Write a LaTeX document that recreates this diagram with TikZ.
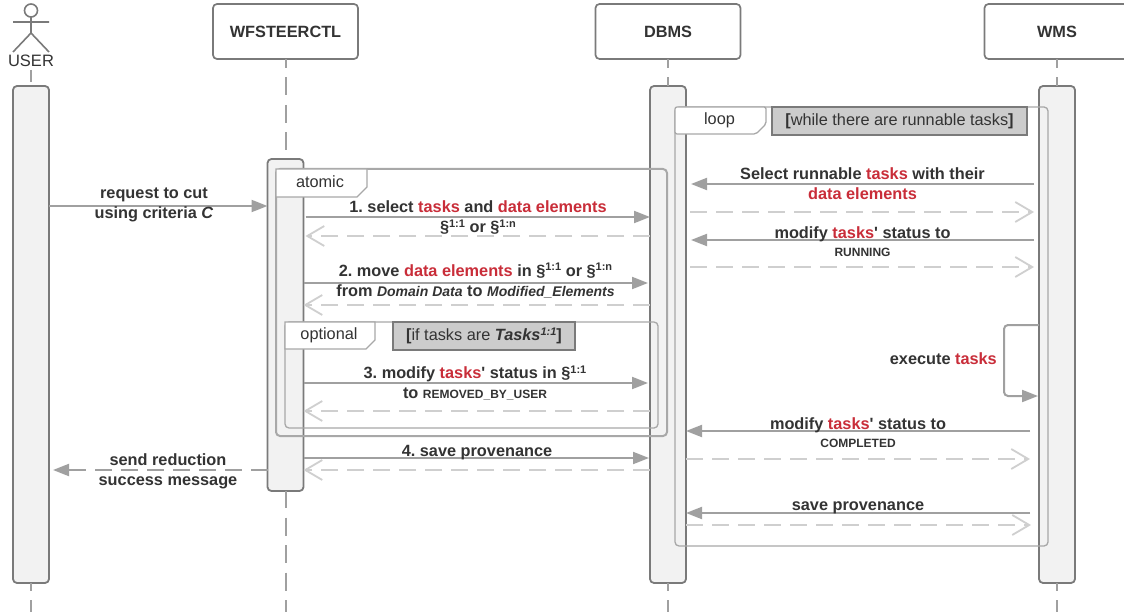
\documentclass[tikz,border=0pt]{standalone}
\usepackage{fontspec}
\setmainfont{Liberation Sans}
\usetikzlibrary{arrows.meta}
\definecolor{txt}{HTML}{333333}
\definecolor{hot}{HTML}{C92D39}
\definecolor{barline}{HTML}{7A7A7A}
\definecolor{barfill}{HTML}{F2F2F2}
\definecolor{msgline}{HTML}{A0A0A0}
\definecolor{retline}{HTML}{CFCFCF}
\definecolor{frameline}{HTML}{A8A8A8}
\newcommand\hot[1]{\textcolor{hot}{#1}}
\newcommand\supr[1]{\raisebox{.33em}{\fontsize{11}{11}\selectfont #1}}
\newcommand\smalltxt[1]{{\fontsize{12}{12}\selectfont #1}}
\newcommand\midtxt[1]{{\fontsize{14}{14}\selectfont\itshape #1}}
\tikzset{
  headbox/.style={draw=barline,line width=1.7pt,fill=white,rounded corners=4pt,inner sep=0pt,outer sep=0pt,minimum width=145pt,minimum height=55pt,text=txt,font=\frenchspacing\fontsize{16.3}{20}\selectfont\bfseries},
  actbar/.style={draw=barline,line width=1.8pt,fill=barfill,rounded corners=4pt,inner sep=0pt,outer sep=0pt,minimum width=36pt},
  life/.style={draw=msgline,line width=2pt,dash pattern=on 18pt off 9.5pt},
  msg/.style={draw=msgline,line width=2pt,-{Triangle[length=16pt,width=12pt,fill=msgline]}},
  dmsg/.style={msg,dash pattern=on 17pt off 9pt},
  ret/.style={draw=retline,line width=1.8pt,dash pattern=on 17pt off 9pt,-{Straight Barb[length=17pt,width=20pt,line width=1.8pt]}},
  lab/.style={text=txt,font=\frenchspacing\fontsize{16.3}{20}\selectfont\bfseries,align=center,inner sep=0pt},
  plain/.style={text=txt,font=\frenchspacing\fontsize{16.3}{20}\selectfont,inner sep=0pt},
  cond/.style={draw=barline,line width=1.1pt,fill=black!20,inner sep=0pt,outer sep=0pt,text=txt,font=\frenchspacing\fontsize{16.3}{20}\selectfont},
  frameA/.style={draw=frameline,line width=2pt,rounded corners=4pt},
  frameB/.style={draw=frameline,line width=1.3pt,rounded corners=4pt},
  tabshape/.style={draw=frameline,fill=white,line width=1.3pt},
}
\begin{document}
\begin{tikzpicture}[x=1pt,y=-1pt]
\useasboundingbox (0,0) rectangle (1124,612);
\clip (0,0) rectangle (1124,612);
\fill[white] (0,0) rectangle (1124,612);
% heads
\node[headbox] (ctlbox) at (285.5,31.5) {WFSTEERCTL};
\node[headbox] (dbbox) at (668,31.5) {DBMS};
\node[headbox] (wmsbox) at (1057,31.5) {WMS};
% actor
\draw[barline,line width=1.6pt] (31,10.5) circle (6.5);
\draw[barline,line width=1.6pt] (31,17) -- (31,33) (13,22) -- (49,22) (13,52) -- (31,33) -- (49,52);
\node[plain,font=\fontsize{16.5}{20}\selectfont] (userlab) at (31,61) {USER};
% bars
\node[actbar,minimum height=497pt] (userbar) at (31,334.5) {};
\node[actbar,minimum height=332pt] (ctlbar) at (285.5,325) {};
\node[actbar,minimum height=497pt] (dbbar) at (668,334.5) {};
\node[actbar,minimum height=497pt] (wmsbar) at (1057,334.5) {};
% lifeline ends
\coordinate (usertop) at (31,70);
\coordinate (userstop) at (31,82);
\coordinate (userend) at (31,612);
\coordinate (ctlend) at (285.5,612);
\coordinate (dbend) at (668,612);
\coordinate (wmsend) at (1057,612);
\draw[life,dash pattern=on 30pt off 0pt] (usertop) -- (userstop);
\draw[life,dash phase=9pt] (ctlbox.south) -- (ctlbar.north);
\draw[life,dash phase=9pt] (dbbox.south) -- (dbbar.north);
\draw[life,dash phase=9pt] (wmsbox.south) -- (wmsbar.north);
\draw[life,dash phase=10.5pt] (userbar.south) -- (userend);
\draw[life,dash phase=1pt] (ctlbar.south) -- (ctlend);
\draw[life,dash phase=10.5pt] (dbbar.south) -- (dbend);
\draw[life,dash phase=10.5pt] (wmsbar.south) -- (wmsend);
% frames
\draw[frameB] (675,107) rectangle (1048,546);
\draw[tabshape,rounded corners=2pt] (675,134) -- (675,107) -- (766,107) -- (766,124) -- (756,134) -- cycle;
\node[plain] (looplab) at (719.5,120) {loop};
\node[cond,minimum width=255pt,minimum height=28pt] (loopcond) at (899.5,121) {\textbf{[}while there are runnable tasks\textbf{]}};
\draw[frameA] (276,169) rectangle (667,436);
\draw[tabshape] (276,197) -- (276,169) -- (367,169) -- (367,187) -- (357,197) -- cycle;
\node[plain] (atomiclab) at (320,182) {atomic};
\draw[frameB] (285,322) rectangle (658,428);
\draw[tabshape] (285,349) -- (285,322) -- (375,322) -- (375,340) -- (366,349) -- cycle;
\node[plain] (optlab) at (329,335) {optional};
\node[cond,minimum width=182pt,minimum height=28pt] (optcond) at (484,336) {\textbf{[}if tasks are \textbf{\textit{Tasks\supr{1:1}}}\textbf{]}};
% messages left
\draw[msg] (userbar.east |- 0,206) -- (ctlbar.west |- 0,206);
\draw[msg] ([xshift=2]ctlbar.east |- 0,217) -- (dbbar.west |- 0,217);
\draw[ret] (dbbar.west |- 0,236) -- ([xshift=2]ctlbar.east |- 0,236);
\draw[msg] (ctlbar.east |- 0,283) -- ([xshift=-2]dbbar.west |- 0,283);
\draw[ret] (dbbar.west |- 0,305) -- (ctlbar.east |- 0,305);
\draw[msg] (ctlbar.east |- 0,383) -- ([xshift=-2]dbbar.west |- 0,383);
\draw[ret] (dbbar.west |- 0,411) -- (ctlbar.east |- 0,411);
\draw[msg] (ctlbar.east |- 0,458) -- ([xshift=-1]dbbar.west |- 0,458);
\draw[ret] (dbbar.west |- 0,470) -- (ctlbar.east |- 0,470);
\draw[dmsg] (ctlbar.west |- 0,470) -- ([xshift=4]userbar.east |- 0,470);
% messages right
\draw[msg] ([xshift=-5]wmsbar.west |- 0,184) -- ([xshift=5]dbbar.east |- 0,184);
\draw[ret] ([xshift=4]dbbar.east |- 0,212) -- ([xshift=-5]wmsbar.west |- 0,212);
\draw[msg] ([xshift=-5]wmsbar.west |- 0,240) -- ([xshift=5]dbbar.east |- 0,240);
\draw[ret] ([xshift=4]dbbar.east |- 0,267) -- ([xshift=-5]wmsbar.west |- 0,267);
\draw[msg,rounded corners=4pt] (wmsbar.west |- 0,325) -- (1004,325) -- (1004,396) -- ([xshift=-1]wmsbar.west |- 0,396);
\draw[msg] ([xshift=-9]wmsbar.west |- 0,431) -- (dbbar.east |- 0,431);
\draw[ret] (dbbar.east |- 0,459) -- ([xshift=-9]wmsbar.west |- 0,459);
\draw[msg] ([xshift=-9]wmsbar.west |- 0,513) -- (dbbar.east |- 0,513);
\draw[ret] (dbbar.east |- 0,525) -- ([xshift=-8]wmsbar.west |- 0,525);
% labels
\node[lab] (t0) at (154,205) {request to cut\\using criteria \textit{C}};
\node[lab] (t1) at (478,218) {1. select \hot{tasks} and \hot{data elements}\\§\supr{1:1} or §\supr{1:n}};
\node[lab] (t2) at (475.5,280.5) {2. move \hot{data elements} in §\supr{1:1} or §\supr{1:n}\\from \midtxt{Domain Data} to \midtxt{Modified\_Elements}};
\node[lab] (t3) at (475,383) {3. modify \hot{tasks}\textquotesingle{} status in §\supr{1:1}\\to \smalltxt{REMOVED\_BY\_USER}};
\node[lab] (t4) at (477,453) {4. save provenance};
\node[lab] (t5) at (168,471) {send reduction\\success message};
\node[lab] (t6) at (862.5,184) {Select runnable \hot{tasks} with their\\\hot{data elements}};
\node[lab] (t7) at (862.5,241.5) {modify \hot{tasks}\textquotesingle{} status to\\[-2pt]\smalltxt{RUNNING}};
\node[lab,anchor=east] (t8) at (997,359) {execute \hot{tasks}};
\node[lab] (t9) at (858,432.5) {modify \hot{tasks}\textquotesingle{} status to\\[-2pt]\smalltxt{COMPLETED}};
\node[lab] (t10) at (858,508) {save provenance};
\end{tikzpicture}
\end{document}
